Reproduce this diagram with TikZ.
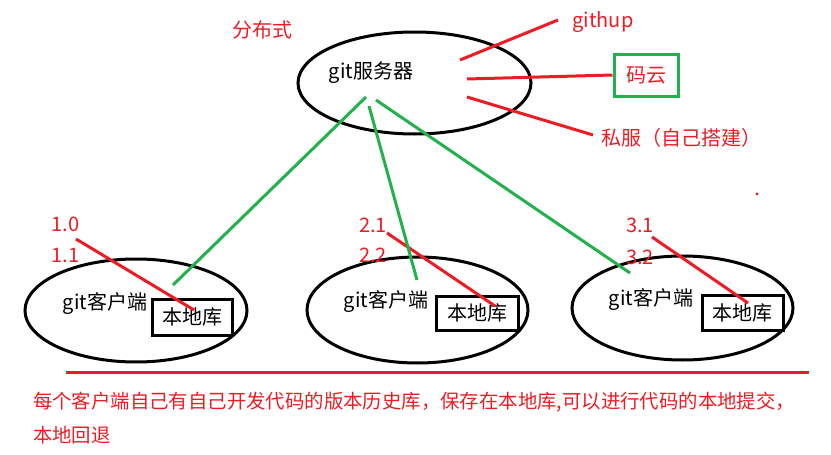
\documentclass[tikz,border=0pt]{standalone}
\usepackage{fontspec}
\setmainfont{Noto Sans CJK SC}
\usetikzlibrary{shapes.geometric}
\definecolor{pred}{RGB}{237,28,36}
\definecolor{pgreen}{RGB}{34,177,76}
\tikzset{
	txt/.style={inner sep=0pt, font=\fontsize{20}{20}\selectfont},
	redtxt/.style={txt, text=pred},
	oval/.style={draw, ellipse, line width=3pt, inner sep=0pt},
	libbox/.style={draw, line width=3pt, inner sep=0pt, txt},
	redline/.style={pred, line width=3pt},
	greenline/.style={pgreen, line width=3pt}
}

\begin{document}
\begin{tikzpicture}[x=1pt, y=-1pt]
		%%%%% START %%%%%
		\useasboundingbox (0, 0) rectangle (831, 455);
		
		\node[redtxt] (fbs) at (262, 30) {分布式};
		
		% server
		\node[oval, minimum width=233, minimum height=102] (server) at (414.5, 83) {};
		\node[txt] (servertxt) at (371, 73) {git服务器};
		
		\node[redtxt] (github) at (603, 22) {githup};
		\node[draw=pgreen, line width=3pt, minimum width=64, minimum height=42, redtxt] (gitee) at (646, 75) {码云};
		\node[redtxt, anchor=west] (private) at (601, 138) {私服（自己搭建）};
		\fill[pred] (757, 194) circle (1.7);
		
		\coordinate (s1) at (460, 60);
		\coordinate (g1) at (558, 20);
		\coordinate (s2) at (467, 79);
		\coordinate (s3) at (467, 97);
		\coordinate (p1) at (593, 135);
		\draw[redline] (s1) -- (g1);
		\draw[redline] (s2) -- (gitee.west);
		\draw[redline] (s3) -- (p1);
		
		% clients
		\node[oval, minimum width=222, minimum height=103] (client1) at (136, 310.5) {};
		\node[oval, minimum width=221, minimum height=106] (client2) at (417.5, 310) {};
		\node[oval, minimum width=221, minimum height=104] (client3) at (682.5, 308) {};
		
		\node[txt] (ctxt1) at (105, 304) {git客户端};
		\node[txt] (ctxt2) at (386, 302) {git客户端};
		\node[txt] (ctxt3) at (651, 300) {git客户端};
		
		\node[libbox, minimum width=80, minimum height=36] (lib1) at (192, 317) {本地库};
		\node[libbox, minimum width=82, minimum height=34] (lib2) at (477, 313) {本地库};
		\node[libbox, minimum width=81, minimum height=35] (lib3) at (742.5, 312.5) {本地库};
		
		\node[redtxt] (v10) at (65.5, 224) {1.0};
		\node[redtxt] (v11) at (65.5, 255) {1.1};
		\node[redtxt] (v21) at (373, 225) {2.1};
		\node[redtxt] (v22) at (373, 255) {2.2};
		\node[redtxt] (v31) at (640, 225) {3.1};
		\node[redtxt] (v32) at (640, 257) {3.2};
		
		\coordinate (a1) at (76, 239);
		\coordinate (b1) at (194, 310);
		\coordinate (a2) at (387, 233);
		\coordinate (b2) at (495, 306);
		\coordinate (a3) at (652, 237);
		\coordinate (b3) at (748, 303);
		\draw[redline] (a1) -- (b1);
		\draw[redline] (a2) -- (b2);
		\draw[redline] (a3) -- (b3);
		
		% server to clients
		\coordinate (t1) at (366, 97);
		\coordinate (t2) at (369, 106);
		\coordinate (t3) at (376, 100);
		\coordinate (c1) at (173, 285);
		\coordinate (c2) at (417, 280);
		\coordinate (c3) at (630, 273);
		\draw[greenline] (t1) -- (c1);
		\draw[greenline] (t2) -- (c2);
		\draw[greenline] (t3) -- (c3);
		
		% note
		\coordinate (n1) at (66, 372);
		\coordinate (n2) at (809, 372);
		\draw[redline] (n1) -- (n2);
		\node[redtxt, anchor=west, font=\fontsize{19.4}{19.4}\selectfont] (note1) at (33, 402) {每个客户端自己有自己开发代码的版本历史库，保存在本地库,可以进行代码的本地提交，};
		\node[redtxt, anchor=west, font=\fontsize{19.4}{19.4}\selectfont] (note2) at (33, 435) {本地回退};
		%%%%% END %%%%%
\end{tikzpicture}
\end{document}
